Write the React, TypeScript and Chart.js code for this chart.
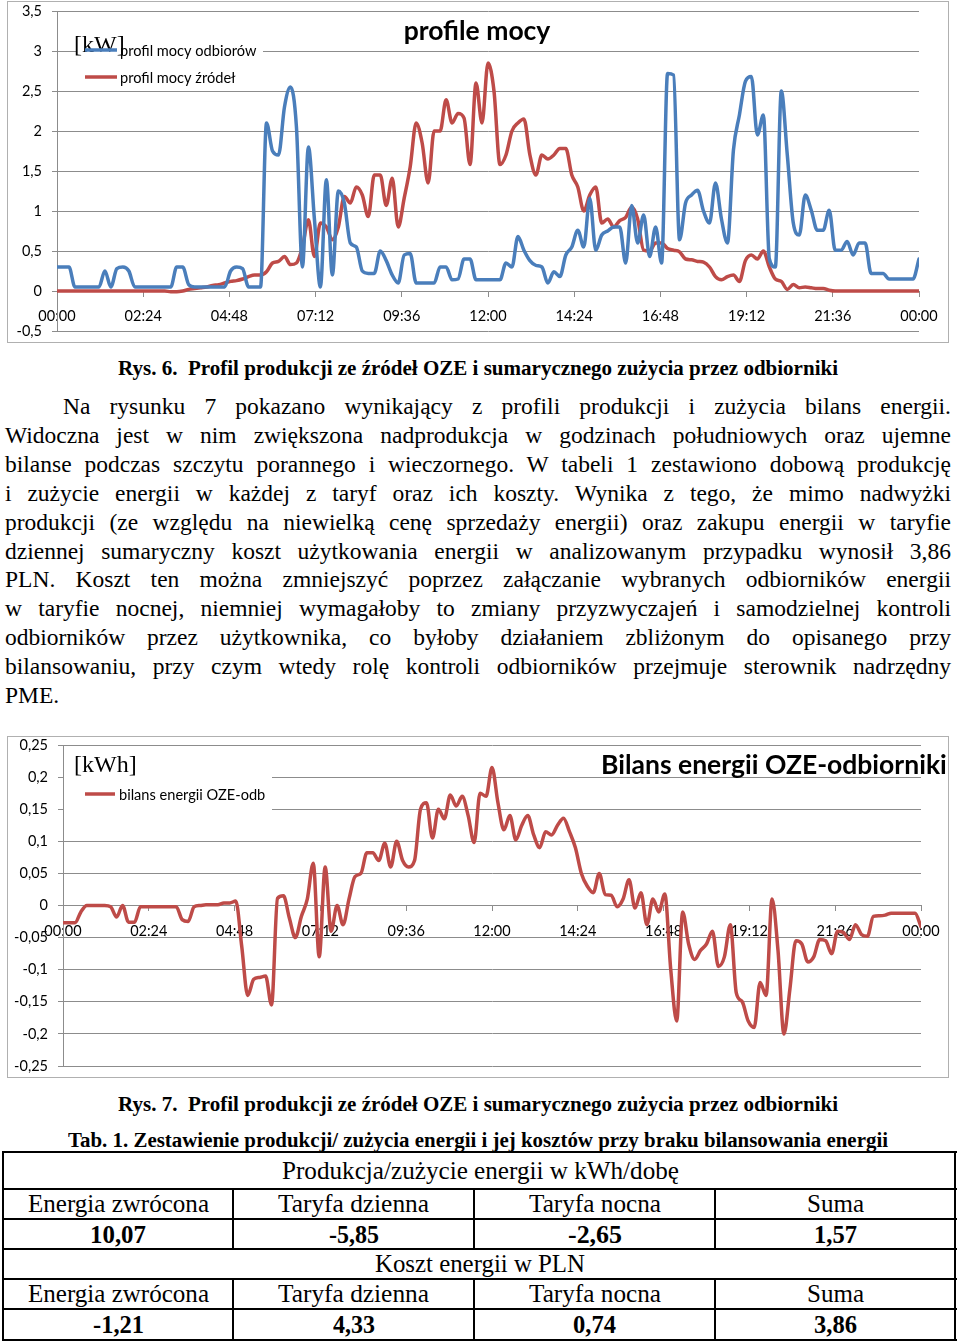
import React, { useEffect, useLayoutEffect, useRef } from "react";
import { Chart, registerables } from "chart.js";

Chart.register(...registerables);

// ---------------- DATA ----------------
const STEP_MINUTES = 10;
const DAY_MINUTES = 1440;
const TIME_TICK_STEP = 144;

// profil mocy odbiorów [kW], every 10 min from 00:00 to 24:00
const LOAD_KW = [
  0.3, 0.3, 0.3, 0.05, 0.05, 0.05, 0.05, 0.05, 0.25, 0.05,
  0.28, 0.3, 0.25, 0.05, 0.05, 0.05, 0.05, 0.05, 0.05, 0.05,
  0.3, 0.3, 0.08, 0.05, 0.05, 0.05, 0.05, 0.05, 0.05, 0.25,
  0.3, 0.28, 0.05, 0.05, 0.05, 2.1, 1.75, 1.7, 2.3, 2.55,
  2.05, 0.3, 1.8, 0.9, 0.05, 1.39, 0.2, 1.25, 1.1, 0.6,
  0.55, 0.25, 0.22, 0.22, 0.5, 0.38, 0.2, 0.1, 0.45, 0.47,
  0.1, 0.1, 0.1, 0.1, 0.3, 0.3, 0.14, 0.15, 0.4, 0.4,
  0.14, 0.14, 0.14, 0.14, 0.14, 0.35, 0.3, 0.68, 0.51, 0.38,
  0.32, 0.3, 0.1, 0.24, 0.18, 0.45, 0.55, 0.76, 0.55, 1.16,
  0.51, 0.7, 0.75, 0.8, 0.8, 0.35, 1.07, 0.6, 0.95, 0.43,
  0.8, 0.35, 2.72, 2.7, 0.64, 1.1, 1.2, 1.26, 1.0, 0.85,
  1.35, 0.9, 0.6, 1.76, 2.2, 2.62, 2.68, 1.95, 2.2, 0.4,
  0.3, 2.5, 1.7, 0.85, 0.7, 1.2, 1.01, 0.76, 0.76, 1.01,
  0.51, 0.51, 0.62, 0.45, 0.6, 0.6, 0.22, 0.22, 0.22, 0.15,
  0.15, 0.15, 0.15, 0.15, 0.4,
];

// profil mocy źródeł [kW]
const SOURCE_KW = [
  0, 0, 0, 0, 0, 0, 0, 0, 0, 0,
  0, 0, 0, 0, 0, 0, 0, 0, 0, -0.01,
  -0.01, 0, 0.02, 0.03, 0.04, 0.05, 0.07, 0.08, 0.1, 0.12,
  0.13, 0.15, 0.18, 0.2, 0.2, 0.24, 0.35, 0.37, 0.43, 0.33,
  0.35, 0.55, 0.89, 0.43, 0.85, 0.8, 0.64, 0.8, 1.18, 1.1,
  1.3, 1.2, 0.93, 1.45, 1.45, 1.07, 1.41, 0.8, 1.16, 1.55,
  2.1, 1.85, 1.35, 2.0, 2.0, 2.39, 2.1, 2.22, 2.16, 1.58,
  2.6, 2.1, 2.85, 2.5, 1.58, 1.7, 2.0, 2.1, 2.15, 1.7,
  1.45, 1.7, 1.65, 1.7, 1.78, 1.78, 1.45, 1.3, 1.0, 1.2,
  1.3, 0.85, 0.9, 0.8, 0.88, 0.92, 1.05, 0.9, 0.51, 0.5,
  0.6, 0.6, 0.53, 0.51, 0.49, 0.4, 0.39, 0.37, 0.36, 0.3,
  0.18, 0.14, 0.18, 0.2, 0.12, 0.38, 0.45, 0.4, 0.5, 0.3,
  0.15, 0.12, 0.02, 0.08, 0.04, 0.05, 0.04, 0.03, 0.03, 0.01,
  0, 0, 0, 0, 0, 0, 0, 0, 0, 0,
  0, 0, 0, 0, 0,
];

// bilans energii OZE-odb [kWh]
const BALANCE_KWH = [
  -0.027, -0.027, -0.027, -0.01, 0, 0, 0, 0, -0.002, -0.018,
  0, -0.026, -0.026, -0.002, -0.002, -0.002, -0.002, -0.002, -0.002, -0.002,
  -0.022, -0.025, -0.002, 0, 0.001, 0.001, 0.001, 0.004, 0.004, 0.007,
  -0.064, -0.14, -0.115, -0.112, -0.11, -0.155, 0.011, 0.015, -0.02, -0.05,
  -0.017, 0.01, 0.066, -0.08, 0.06, -0.04, 0.0, -0.03, 0.01, 0.045,
  0.05, 0.082, 0.082, 0.07, 0.097, 0.06, 0.1, 0.07, 0.06, 0.07,
  0.15, 0.16, 0.105, 0.15, 0.135, 0.172, 0.155, 0.17, 0.14, 0.098,
  0.175, 0.17, 0.215, 0.16, 0.118, 0.14, 0.102, 0.125, 0.14, 0.11,
  0.09, 0.115, 0.11, 0.125, 0.136, 0.115, 0.09, 0.05, 0.03, 0.02,
  0.05, 0.017, 0.016, -0.002, 0.01, 0.04, -0.004, 0.02, -0.03, 0.01,
  -0.01, 0.018, -0.1, -0.18, -0.01, -0.06, -0.084, -0.07, -0.06, -0.04,
  -0.095, -0.08, -0.03, -0.136, -0.15, -0.18, -0.19, -0.12, -0.14, 0.01,
  -0.07, -0.2, -0.13, -0.055, -0.06, -0.088, -0.08, -0.053, -0.055, -0.075,
  -0.04, -0.042, -0.053, -0.03, -0.045, -0.048, -0.017, -0.016, -0.015, -0.012,
  -0.012, -0.012, -0.012, -0.012, -0.033,
];

const SERIES1_LABELS = ["profil mocy odbiorów", "profil mocy źródeł"];
const SERIES2_LABEL = "bilans energii OZE-odb";
const TITLE1 = "profile mocy";
const TITLE2 = "Bilans energii OZE-odbiorniki";
const UNIT1 = "[kW]";
const UNIT2 = "[kWh]";

const CAPTION1 = "Rys. 6.  Profil produkcji ze źródeł OZE i sumarycznego zużycia przez odbiorniki";
const CAPTION2 = "Rys. 7.  Profil produkcji ze źródeł OZE i sumarycznego zużycia przez odbiorniki";
const TABLE_TITLE = "Tab. 1. Zestawienie produkcji/ zużycia energii i jej kosztów przy braku bilansowania energii";

const PARAGRAPH_LINES = [
  "Na rysunku 7 pokazano wynikający z profili produkcji i zużycia bilans energii.",
  "Widoczna jest w nim zwiększona nadprodukcja w godzinach południowych oraz ujemne",
  "bilanse podczas szczytu porannego i wieczornego. W tabeli 1 zestawiono dobową produkcję",
  "i zużycie energii w każdej z taryf oraz ich koszty. Wynika z tego, że mimo nadwyżki",
  "produkcji (ze względu na niewielką cenę sprzedaży energii) oraz zakupu energii w taryfie",
  "dziennej sumaryczny koszt użytkowania energii w analizowanym przypadku wynosił 3,86",
  "PLN. Koszt ten można zmniejszyć poprzez załączanie wybranych odbiorników energii",
  "w taryfie nocnej, niemniej wymagałoby to zmiany przyzwyczajeń i samodzielnej kontroli",
  "odbiorników przez użytkownika, co byłoby działaniem zbliżonym do opisanego przy",
  "bilansowaniu, przy czym wtedy rolę kontroli odbiorników przejmuje sterownik nadrzędny",
  "PME.",
];

const TABLE_HEAD_ENERGY = "Produkcja/zużycie energii w kWh/dobę";
const TABLE_HEAD_COST = "Koszt energii w PLN";
const TABLE_COLUMNS = ["Energia zwrócona", "Taryfa dzienna", "Taryfa nocna", "Suma"];
const ENERGY_VALUES = ["10,07", "-5,85", "-2,65", "1,57"];
const COST_VALUES = ["-1,21", "4,33", "0,74", "3,86"];

// ---------------- STYLE / LAYOUT ----------------
const BLUE = "#4a7ebb";
const RED = "#be4b48";
const GRID = "#8c8c8c";
const FRAME = "#b0b0b0";
const SERIF = '"Liberation Serif", "Times New Roman", serif';
const SANS = 'Lato, "Open Sans", sans-serif';

const fmtTime = (v: number) => {
  const m = Math.round(v) % DAY_MINUTES;
  const hh = Math.floor(m / 60);
  const mm = m % 60;
  return `${String(hh).padStart(2, "0")}:${String(mm).padStart(2, "0")}`;
};
const fmtNum = (v: number) => String(Math.round(v * 100) / 100).replace(".", ",");
const toPoints = (arr: number[]) => arr.map((v, i) => ({ x: i * STEP_MINUTES, y: v }));

type Overlay = {
  frame: [number, number, number, number];
  box: [number, number, number, number];
  unit: { text: string; x: number; y: number };
  legend: { text: string; color: string; y: number }[];
  legendLine: [number, number];
  legendTextX: number;
  title: { text: string; x: number; y: number; align: CanvasTextAlign };
};

function overlayPlugin(o: Overlay) {
  return {
    id: "overlay",
    beforeDraw(chart: any) {
      const { ctx, width, height } = chart;
      ctx.save();
      ctx.fillStyle = "#fff";
      ctx.fillRect(0, 0, width, height);
      ctx.strokeStyle = FRAME;
      ctx.lineWidth = 1;
      ctx.strokeRect(o.frame[0], o.frame[1], o.frame[2], o.frame[3]);
      ctx.restore();
    },
    beforeDatasetsDraw(chart: any) {
      const { ctx } = chart;
      ctx.save();
      ctx.fillStyle = "#fff";
      ctx.fillRect(o.box[0], o.box[1], o.box[2], o.box[3]);
      ctx.restore();
    },
    afterDraw(chart: any) {
      const { ctx } = chart;
      ctx.save();
      ctx.fillStyle = "#000";
      ctx.textBaseline = "alphabetic";
      ctx.textAlign = "left";
      ctx.font = `24px ${SERIF}`;
      ctx.fillText(o.unit.text, o.unit.x, o.unit.y);
      ctx.font = `14.6px ${SANS}`;
      ctx.textBaseline = "middle";
      o.legend.forEach((it) => {
        ctx.strokeStyle = it.color;
        ctx.lineWidth = 3.5;
        ctx.beginPath();
        ctx.moveTo(o.legendLine[0], it.y);
        ctx.lineTo(o.legendLine[1], it.y);
        ctx.stroke();
        ctx.fillStyle = "#000";
        ctx.fillText(it.text, o.legendTextX, it.y + 1);
      });
      ctx.font = `bold 26.5px ${SANS}`;
      ctx.textBaseline = "alphabetic";
      ctx.textAlign = o.title.align;
      ctx.fillText(o.title.text, o.title.x, o.title.y);
      ctx.restore();
    },
  };
}

function baseOptions(yMin: number, yMax: number, yStep: number, yWidth: number, pad: any) {
  return {
    animation: false,
    responsive: false,
    devicePixelRatio: 1,
    layout: { padding: pad },
    plugins: { legend: { display: false }, title: { display: false }, tooltip: { enabled: false } },
    elements: {
      point: { radius: 0 },
      line: { borderWidth: 3.5, cubicInterpolationMode: "monotone", borderJoinStyle: "round", borderCapStyle: "round" },
    },
    scales: {
      x: {
        type: "linear",
        min: 0,
        max: DAY_MINUTES,
        position: { y: 0 },
        ticks: {
          stepSize: TIME_TICK_STEP,
          callback: (v: any) => fmtTime(Number(v)),
          font: { family: SANS, size: 14.5 },
          color: "#000",
          padding: 12,
          maxRotation: 0,
          autoSkip: false,
        },
        grid: { drawOnChartArea: false, drawTicks: true, tickLength: 5, color: GRID },
        border: { display: true, color: GRID, width: 1 },
        afterFit: (s: any) => {
          s.paddingLeft = 0;
          s.paddingRight = 0;
        },
      },
      y: {
        type: "linear",
        min: yMin,
        max: yMax,
        ticks: {
          stepSize: yStep,
          callback: (v: any) => fmtNum(Number(v)),
          font: { family: SANS, size: 14.5 },
          color: "#000",
          padding: 10,
        },
        grid: { color: GRID, tickLength: 5, lineWidth: 1 },
        border: { display: true, color: GRID, width: 1 },
        afterFit: (s: any) => {
          s.width = yWidth;
          s.paddingTop = 0;
          s.paddingBottom = 0;
        },
      },
    },
  };
}

function PowerChart() {
  const ref = useRef<HTMLCanvasElement>(null);
  useEffect(() => {
    if (!ref.current) return;
    const chart = new Chart(ref.current, {
      type: "line",
      data: {
        datasets: [
          { label: SERIES1_LABELS[0], data: toPoints(LOAD_KW), borderColor: BLUE, backgroundColor: BLUE, fill: false },
          { label: SERIES1_LABELS[1], data: toPoints(SOURCE_KW), borderColor: RED, backgroundColor: RED, fill: false },
        ],
      },
      options: baseOptions(-0.5, 3.5, 0.5, 57, { left: 0, right: 41, top: 11, bottom: 14 }) as any,
      plugins: [
        overlayPlugin({
          frame: [7.5, 1.5, 941, 341],
          box: [76, 30, 187, 61],
          unit: { text: UNIT1, x: 74, y: 52 },
          legend: [
            { text: SERIES1_LABELS[0], color: BLUE, y: 50 },
            { text: SERIES1_LABELS[1], color: RED, y: 77 },
          ],
          legendLine: [85, 117],
          legendTextX: 120,
          title: { text: TITLE1, x: 477, y: 40, align: "center" },
        }),
      ],
    });
    return () => chart.destroy();
  }, []);
  return (
    <canvas
      ref={ref}
      width={960}
      height={345}
      style={{ position: "absolute", left: 0, top: 0, width: 960, height: 345 }}
    />
  );
}

function BalanceChart() {
  const ref = useRef<HTMLCanvasElement>(null);
  useEffect(() => {
    if (!ref.current) return;
    const chart = new Chart(ref.current, {
      type: "line",
      data: {
        datasets: [
          { label: SERIES2_LABEL, data: toPoints(BALANCE_KWH), borderColor: RED, backgroundColor: RED, fill: false },
        ],
      },
      options: baseOptions(-0.25, 0.25, 0.05, 63, { left: 0, right: 39, top: 10, bottom: 14 }) as any,
      plugins: [
        overlayPlugin({
          frame: [7.5, 1.5, 941, 341],
          box: [64, 32, 208, 50],
          unit: { text: UNIT2, x: 74, y: 37 },
          legend: [{ text: SERIES2_LABEL, color: RED, y: 59 }],
          legendLine: [85, 115],
          legendTextX: 119,
          title: { text: TITLE2, x: 601, y: 39, align: "left" },
        }),
      ],
    });
    return () => chart.destroy();
  }, []);
  return (
    <canvas
      ref={ref}
      width={960}
      height={345}
      style={{ position: "absolute", left: 0, top: 735, width: 960, height: 345 }}
    />
  );
}

// Text squeezed/stretched horizontally to a given width
function FitText(props: { text: string; x: number; cy: number; w: number; size: number; bold?: boolean }) {
  const { text, x, cy, w, size, bold } = props;
  const ref = useRef<HTMLSpanElement>(null);
  useLayoutEffect(() => {
    const el = ref.current;
    if (!el) return;
    el.style.transform = "none";
    const nat = el.getBoundingClientRect().width;
    if (nat > 0) el.style.transform = `scaleX(${w / nat})`;
  }, [text, w, size]);
  const h = size * 1.4;
  return (
    <div
      style={{
        position: "absolute",
        left: x,
        top: cy - h / 2,
        height: h,
        display: "flex",
        alignItems: "center",
        whiteSpace: "pre",
      }}
    >
      <span
        ref={ref}
        style={{
          display: "inline-block",
          transformOrigin: "left center",
          fontFamily: SERIF,
          fontSize: size,
          fontWeight: bold ? "bold" : "normal",
          lineHeight: 1.1,
          color: "#000",
        }}
      >
        {text}
      </span>
    </div>
  );
}

// Justified line: word spacing stretched to fill [left, right]
function JustLine(props: { text: string; left: number; right: number; cy: number; size: number; justify: boolean }) {
  const { text, left, right, cy, size, justify } = props;
  const ref = useRef<HTMLSpanElement>(null);
  useLayoutEffect(() => {
    const el = ref.current;
    if (!el) return;
    el.style.wordSpacing = "0px";
    const nat = el.getBoundingClientRect().width;
    const spaces = (text.match(/ /g) || []).length;
    if (justify && spaces > 0) el.style.wordSpacing = `${(right - left - nat) / spaces}px`;
  }, [text]);
  const h = size * 1.4;
  return (
    <div
      style={{
        position: "absolute",
        left,
        top: cy - h / 2,
        height: h,
        display: "flex",
        alignItems: "center",
        whiteSpace: "pre",
      }}
    >
      <span ref={ref} style={{ fontFamily: SERIF, fontSize: size, lineHeight: 1.1, color: "#000" }}>
        {text}
      </span>
    </div>
  );
}

const PARA_TOP = 407;
const PARA_STEP = 28.9;
const COL_CENTERS = [118, 353.5, 594.5, 835.5];
const COL_LABEL_W = [181, 151, 132, 57];
const ENERGY_W = [56, 50, 54, 43];
const COST_W = [51, 42, 43, 43];
const H_LINES = [1152, 1189, 1219, 1249, 1279, 1309, 1340];
const V_INNER = [233, 474, 715];

function Table() {
  const lines: React.ReactNode[] = [];
  H_LINES.forEach((y, i) =>
    lines.push(
      <div key={`h${i}`} style={{ position: "absolute", left: 3, top: y - 1, width: 954, height: 2, background: "#000" }} />
    )
  );
  [3, 955].forEach((x, i) =>
    lines.push(
      <div key={`vo${i}`} style={{ position: "absolute", left: x - 1, top: 1151, width: 2, height: 190, background: "#000" }} />
    )
  );
  V_INNER.forEach((x, i) => {
    lines.push(
      <div key={`va${i}`} style={{ position: "absolute", left: x - 1, top: 1189, width: 2, height: 60, background: "#000" }} />
    );
    lines.push(
      <div key={`vb${i}`} style={{ position: "absolute", left: x - 1, top: 1279, width: 2, height: 61, background: "#000" }} />
    );
  });
  const rowY = [1171, 1204, 1234.5, 1264, 1294, 1325];
  return (
    <>
      {lines}
      <FitText text={TABLE_HEAD_ENERGY} x={480 - 397 / 2} cy={rowY[0]} w={397} size={25} />
      {TABLE_COLUMNS.map((t, i) => (
        <FitText key={`c1${i}`} text={t} x={COL_CENTERS[i] - COL_LABEL_W[i] / 2} cy={rowY[1]} w={COL_LABEL_W[i]} size={25} />
      ))}
      {ENERGY_VALUES.map((t, i) => (
        <FitText key={`e${i}`} text={t} x={COL_CENTERS[i] - ENERGY_W[i] / 2} cy={rowY[2]} w={ENERGY_W[i]} size={25} bold />
      ))}
      <FitText text={TABLE_HEAD_COST} x={480 - 210 / 2} cy={rowY[3]} w={210} size={25} />
      {TABLE_COLUMNS.map((t, i) => (
        <FitText key={`c2${i}`} text={t} x={COL_CENTERS[i] - COL_LABEL_W[i] / 2} cy={rowY[4]} w={COL_LABEL_W[i]} size={25} />
      ))}
      {COST_VALUES.map((t, i) => (
        <FitText key={`k${i}`} text={t} x={COL_CENTERS[i] - COST_W[i] / 2} cy={rowY[5]} w={COST_W[i]} size={25} bold />
      ))}
    </>
  );
}

export default function App() {
  return (
    <div style={{ position: "absolute", left: 0, top: 0, width: 960, height: 1342, overflow: "hidden", background: "#fff" }}>
      <PowerChart />
      <FitText text={CAPTION1} x={118} cy={368} w={720} size={20} bold />
      {PARAGRAPH_LINES.map((t, i) => (
        <JustLine
          key={i}
          text={t}
          left={i === 0 ? 63 : 5}
          right={951}
          cy={PARA_TOP + i * PARA_STEP}
          size={23.5}
          justify={i < PARAGRAPH_LINES.length - 1}
        />
      ))}
      <BalanceChart />
      <FitText text={CAPTION2} x={118} cy={1104} w={720} size={20} bold />
      <FitText text={TABLE_TITLE} x={68} cy={1140} w={820} size={20} bold />
      <Table />
    </div>
  );
}
